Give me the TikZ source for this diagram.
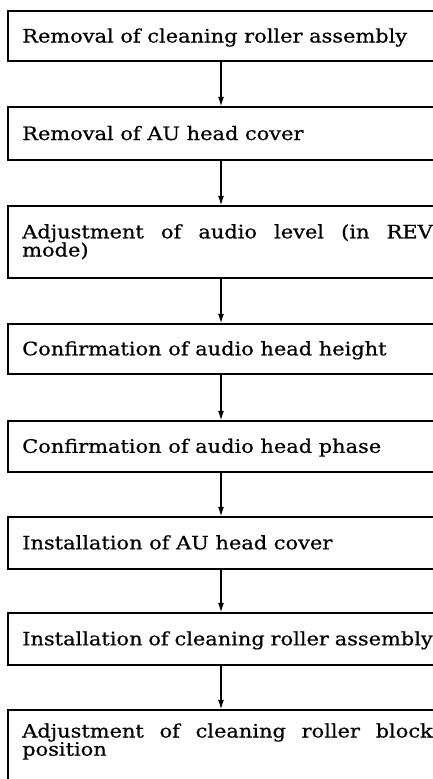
\documentclass[tikz,border=0pt]{standalone}
\usepackage{fontspec}
\setmainfont{DejaVu Serif}[FakeStretch=1.13,FakeBold=0.6]
\usetikzlibrary{arrows.meta}
\hyphenpenalty=10000
\exhyphenpenalty=10000
\begin{document}
\begin{tikzpicture}[x=1pt,y=-1pt,
  box/.style={draw,line width=1.5pt,anchor=base west,inner xsep=14.5pt,inner ysep=0pt,
    text width=410.5pt,align=justify,
    font=\fontsize{18.5}{18.2}\selectfont},
  arr/.style={line width=1.1pt,-{Latex[length=9.5pt,width=6pt]}}]
\useasboundingbox (0,0) rectangle (433,779);
\clip (0,0) rectangle (433,779);
\coordinate (ax) at (221,0);
\node[box,text height=31.5pt,text depth=18.5pt] (b1) at (7,42.5) {Removal of cleaning roller assembly};
\node[box,text height=33pt,text depth=20pt] (b2) at (7,140) {Removal of AU head cover};
\node[box,text height=32.3pt,text depth=39.7pt] (b3) at (7,238.3) {Adjustment of audio level (in REV\linebreak mode)};
\node[box,text height=31.3pt,text depth=18.7pt] (b4) at (7,355.3) {Confirmation of audio head height};
\node[box,text height=31.8pt,text depth=19.2pt] (b5) at (7,452.8) {Confirmation of audio head phase};
\node[box,text height=32.3pt,text depth=19.7pt] (b6) at (7,549.3) {Installation of AU head cover};
\node[box,text height=32.3pt,text depth=19.7pt] (b7) at (7,645.3) {Installation of cleaning roller assembly};
\node[box,text height=27.5pt,text depth=60pt] (b8) at (7,737.5) {Adjustment of cleaning roller block\linebreak position};
\draw[arr] (b1.south west -| ax) -- (b2.north west -| ax);
\draw[arr] (b2.south west -| ax) -- (b3.north west -| ax);
\draw[arr] (b3.south west -| ax) -- (b4.north west -| ax);
\draw[arr] (b4.south west -| ax) -- (b5.north west -| ax);
\draw[arr] (b5.south west -| ax) -- (b6.north west -| ax);
\draw[arr] (b6.south west -| ax) -- (b7.north west -| ax);
\draw[arr] (b7.south west -| ax) -- (b8.north west -| ax);
\end{tikzpicture}
\end{document}
